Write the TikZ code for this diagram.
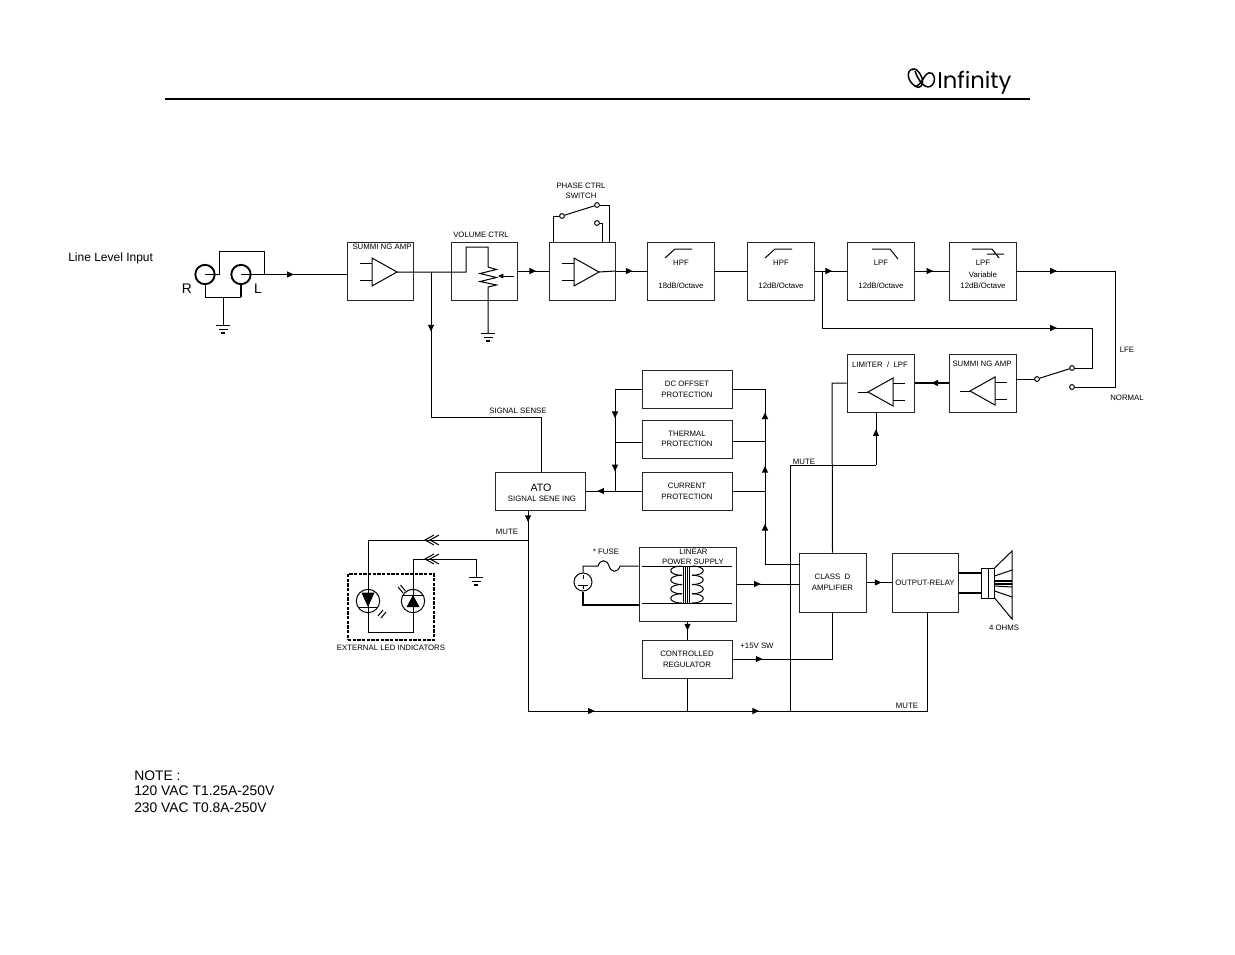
\documentclass[tikz,border=0pt]{standalone}
\usepackage{fontspec}
\setmainfont{Liberation Sans}
\newfontfamily\logofont{Poppins}
\usetikzlibrary{arrows.meta,decorations.markings}
\newcommand{\smalltxt}{\fontsize{5.85pt}{7pt}\selectfont}
\newcommand{\midtxt}{\fontsize{9pt}{11pt}\selectfont}
\newcommand{\notetxt}{\fontsize{10.4pt}{12pt}\selectfont}
\tikzset{
  x=.75pt,y=-.75pt,
  wire/.style={line width=.75pt,draw=black,line join=miter},
  thickwire/.style={line width=1.5pt,draw=black},
  mid/.style={postaction={decorate,decoration={markings,mark=at position #1 with {\arrow{Triangle[length=5pt,width=4.5pt]}}}}},
  blk/.style={draw=black!85,line width=.75pt,fill=white,inner sep=0pt,align=center,font=\smalltxt},
  txt/.style={inner sep=0pt,align=center,font=\smalltxt},
  term/.style={circle,draw=black,line width=.75pt,fill=white,minimum size=3.6pt,inner sep=0pt},
  ampl/.pic={
    \draw[wire] (0,-14) -- (25,0) -- (0,14) -- cycle;
    \draw[wire] (-12,-9) -- (0,-9) (-12,8) -- (0,8);
    \coordinate (-tip) at (25,0);
  },
  earth/.pic={
    \draw[wire] (-7,0) -- (7,0) (-4.5,4) -- (4.5,4);
    \draw[line width=1pt] (-2,8) -- (2,8);
  },
  chev/.pic={
    \draw[wire] (9,-5) -- (0,0) -- (9,5) (14,-5) -- (5,0) -- (14,5);
  }
}
\begin{document}
\begin{tikzpicture}
\path[use as bounding box,fill=white] (0,0) rectangle (1235,954);

% header
\coordinate (hl) at (165,99);
\coordinate (hr) at (1030,99);
\draw[line width=1.5pt] (hl) -- (hr);
\node[inner sep=0pt,anchor=west,font=\logofont\fontsize{17pt}{18pt}\selectfont] (logo) at (937,83) {Infinity};
\draw[line width=1.1pt,black] (913,69) .. controls (906,70) and (907,81) .. (915,86) .. controls (921,90) and (924,84) .. (922,78) .. controls (919,70) and (914,67) .. (912,70);
\draw[line width=1.1pt,black] (915,71) .. controls (920,86) and (930,92) .. (934,82) .. controls (936,74) and (930,69) .. (925,76) .. controls (922,81) and (918,88) .. (914,86);

% blocks
\node[blk,minimum width=49.5pt,minimum height=43.5pt] (sum1) at (380,271) {};
\node[blk,minimum width=49.5pt,minimum height=43.5pt] (vol) at (484,271) {};
\node[blk,minimum width=49.5pt,minimum height=43.5pt] (phase) at (582,271) {};
\node[blk,minimum width=50.25pt,minimum height=43.5pt] (hpf1) at (680.5,271) {};
\node[blk,minimum width=50.25pt,minimum height=43.5pt] (hpf2) at (780.5,271) {};
\node[blk,minimum width=50.25pt,minimum height=43.5pt] (lpf) at (880.5,271) {};
\node[blk,minimum width=50.25pt,minimum height=43.5pt] (lpfv) at (982.5,271) {};
\node[blk,minimum width=50.25pt,minimum height=43.5pt] (lim) at (880.5,383) {};
\node[blk,minimum width=50.25pt,minimum height=43.5pt] (sum2) at (982.5,383) {};
\node[blk,minimum width=67.5pt,minimum height=28.5pt] (dc) at (687,389) {DC OFFSET\\[1pt]PROTECTION};
\node[blk,minimum width=67.5pt,minimum height=28.5pt] (therm) at (687,439) {THERMAL\\[1pt]PROTECTION};
\node[blk,minimum width=67.5pt,minimum height=28.5pt] (cur) at (687,491) {CURRENT\\[1pt]PROTECTION};
\node[blk,minimum width=67.5pt,minimum height=28.5pt] (ato) at (540,491) {};
\node[blk,minimum width=72.75pt,minimum height=55.5pt] (lin) at (687.5,584) {};
\node[blk,minimum width=67.5pt,minimum height=28.5pt] (reg) at (687,659) {CONTROLLED\\[1pt]REGULATOR};
\node[blk,minimum width=50.25pt,minimum height=44.25pt] (cld) at (832.5,582.5) {CLASS\ \ D\\[1pt]AMPLIFIER};
\node[blk,minimum width=49.5pt,minimum height=44.25pt] (rel) at (925,582.5) {OUTPUT-RELAY};

% block labels
\node[txt] (l1) at (382,247) {SUMMI NG AMP};
\node[txt] (l2) at (481,235) {VOLUME CTRL};
\node[txt,align=center] (l3) at (581,191) {PHASE CTRL\\[.5pt]SWITCH};
\node[txt] (l4) at (681,263) {HPF};
\node[txt] (l5) at (681,286) {18dB/Octave};
\node[txt] (l6) at (781,263) {HPF};
\node[txt] (l7) at (781,286) {12dB/Octave};
\node[txt] (l8) at (881,263) {LPF};
\node[txt] (l9) at (881,286) {12dB/Octave};
\node[txt] (l10) at (983,263) {LPF};
\node[txt] (l11) at (983,275) {Variable};
\node[txt] (l12) at (983,286) {12dB/Octave};
\node[txt] (l13) at (880,365) {LIMITER\ \ /\ \ LPF};
\node[txt] (l14) at (982,364) {SUMMI NG AMP};
\node[inner sep=0pt,font=\fontsize{8pt}{9pt}\selectfont] (l15) at (541,488) {ATO};
\node[txt] (l16) at (542,499) {SIGNAL SENE ING};
\node[txt] (l17) at (693.5,552) {LINEAR};
\node[txt] (l18) at (693,561.5) {POWER SUPPLY};
\node[txt] (l19) at (518,411) {SIGNAL SENSE};
\node[txt] (l20) at (507,532) {MUTE};
\node[txt] (l21) at (804,462) {MUTE};
\node[txt] (l22) at (907,706) {MUTE};
\node[txt] (l23) at (757,646) {+15V SW};
\node[txt] (l24) at (606,552) {* FUSE};
\node[txt] (l25) at (1004,628) {4 OHMS};
\node[txt] (l26) at (391,648) {EXTERNAL LED INDICATORS};
\node[txt] (l27) at (1127,350) {LFE};
\node[txt] (l28) at (1127,398) {NORMAL};
\node[inner sep=0pt,anchor=west,font=\midtxt] (l29) at (68,258) {Line Level Input};
\node[inner sep=0pt,font=\notetxt] (l30) at (187,289) {R};
\node[inner sep=0pt,font=\notetxt] (l31) at (258,289) {L};
\node[inner sep=0pt,anchor=west,font=\notetxt] (l32) at (134,775.5) {NOTE :};
\node[inner sep=0pt,anchor=west,font=\notetxt] (l33) at (134,790.5) {120 VAC T1.25A-250V};
\node[inner sep=0pt,anchor=west,font=\notetxt] (l34) at (134,807.5) {230 VAC T0.8A-250V};

% input jacks
\node[circle,draw=black,line width=1.4pt,minimum size=14.5pt,inner sep=0pt] (jr) at (205,274.5) {};
\node[circle,draw=black,line width=1.4pt,minimum size=14.5pt,inner sep=0pt] (jl) at (241,274.5) {};
\coordinate (loopa) at (219,274.5);
\coordinate (loopb) at (264,274.5);
\coordinate (gndj) at (223,297);
\coordinate (gndin) at (223,325);
\draw[wire] (jr.center) -- (loopa) |- (264,251) -- (loopb);
\draw[wire,mid=.5] (jl.center) -- (jl.center -| sum1.west);
\draw[wire] (jr.south) -- (jr.south |- gndj) -- (jl.south |- gndj);
\draw[thickwire] (jl.south |- gndj) -- (jl.south);
\draw[wire] (gndj) -- (gndin);
\pic at (gndin) {earth};

% summing amp + volume
\pic (a1) at (372,272) {ampl};
\pic (a3) at (574,272) {ampl};
\pic[xscale=-1] (a4) at (893,392) {ampl};
\pic[xscale=-1] (a5) at (995,391) {ampl};
\coordinate (jsense) at (431,272);
\coordinate (ssa) at (431,417);
\coordinate (ssb) at (541,417);
\draw[wire] (a1-tip) -- (466,272) -- (466,247) -- (488,247) -- (488,267)
  -- (496.5,269.5) -- (480,273.5) -- (496.5,277.5) -- (480,281.5) -- (496.5,285) -- (488,287) -- (488,333);
\pic at (488,333) {earth};
\coordinate (wiper) at (514,276);
\coordinate (wiperb) at (498,276);
\draw[wire,-{Triangle[length=4pt,width=3.5pt]}] (wiper) -- (wiperb);
\draw[wire,mid=.41] (jsense) -- (ssa);
\draw[wire] (ssa) -- (ssb) -- (ssb |- ato.north);
\draw[wire,mid=.6] (vol.east) -- (phase.west);

% phase switch
\node[term] (sa) at (562,216) {};
\node[term] (sb) at (597,205) {};
\node[term] (sc) at (597,223) {};
\coordinate (ta) at (553,242);
\coordinate (tb) at (609,242);
\coordinate (tc) at (602,242);
\draw[wire] (sa) -- (sb);
\draw[wire] (sa) -| (ta);
\draw[wire] (sb) -| (tb);
\draw[wire] (sc) -| (tc);
\draw[wire] (a3-tip) -- (phase.east);
\draw[wire,mid=.55] (phase.east) -- (hpf1.west);
\draw[wire] (hpf1.east) -- (hpf2.west);

% filter slopes
\draw[wire] (665,258) -- (675,249) -- (692,249);
\draw[wire] (765,258) -- (775,249) -- (792,249);
\draw[wire] (872,249) -- (890,249) -- (898,259);
\draw[wire] (972,249) -- (992,249) -- (999,258) (987,254) -- (1004,254);

% filter chain
\coordinate (jlpf) at (822,271);
\coordinate (lowb) at (822,328);
\coordinate (lowc) at (1092,328);
\coordinate (hic) at (1115,271);
\node[term] (ma) at (1037,379) {};
\node[term] (mb) at (1072,368) {};
\node[term] (mc) at (1072,387) {};
\draw[wire,mid=.55] (hpf2.east) -- (lpf.west);
\draw[wire,mid=.55] (lpf.east) -- (lpfv.west);
\draw[wire,mid=.41] (lpfv.east) -- (hic);
\draw[wire] (hic) |- (mc);
\draw[wire] (jlpf) -- (lowb);
\draw[wire,mid=.87] (lowb) -- (lowc);
\draw[wire] (lowc) |- (mb);
\draw[wire] (ma) -- (mb);
\draw[wire] (sum2.east |- ma) -- (ma);

% limiter
\draw[thickwire,mid=.5] (sum2.west) -- (lim.east);
\coordinate (s2in) at (960,391);
\coordinate (l2in) at (858,392);
\draw[wire] (a5-tip) -- (s2in);
\draw[wire] (a4-tip) -- (l2in);

% protection
\coordinate (pa) at (615,389);
\coordinate (pb) at (615,442);
\coordinate (pc) at (615,491);
\coordinate (qa) at (765,389);
\coordinate (qb) at (765,441);
\coordinate (qc) at (765,491);
\coordinate (qd) at (765,564);
\draw[wire] (dc.west) -- (pa);
\draw[wire,mid=.55] (pa) -- (pb);
\draw[wire,mid=.6] (pb) -- (pc);
\draw[wire] (therm.west |- pb) -- (pb);
\draw[wire] (cur.west) -- (pc);
\draw[wire,mid=.6] (pc) -- (ato.east);
\draw[wire] (dc.east) -- (qa);
\draw[wire] (therm.east |- qb) -- (qb);
\draw[wire] (cur.east) -- (qc);
\draw[wire,mid=.55] (qb) -- (qa);
\draw[wire,mid=.5] (qc) -- (qb);
\draw[wire,mid=.55] (qd) -- (qc);
\draw[wire] (qd) -- (cld.west |- qd);

% ATO down + LEDs
\coordinate (ja) at (528,540);
\coordinate (jb) at (528,711);
\draw[wire,mid=.39] (ato.south -| ja) -- (ja);
\draw[wire] (ja) -- (jb);
\coordinate (m1) at (425,540);
\coordinate (m2) at (425,559);
\coordinate (e1) at (476,559);
\coordinate (e2) at (476,577);
\node[circle,draw=black,line width=.75pt,minimum size=17.5pt,inner sep=0pt] (led1) at (368,601) {};
\node[circle,draw=black,line width=.75pt,minimum size=17.5pt,inner sep=0pt] (led2) at (413,601) {};
\draw[wire] (ja) -- (m1) -- (m1 -| led1) -- (led1.center);
\draw[wire] (e2) -- (e1) -- (m2) -- (m2 -| led2) -- (led2.center);
\pic at (m1) {chev};
\pic at (m2) {chev};
\pic at (e2) {earth};
\fill (361.5,592.7) -- (374.5,592.7) -- (368,607) -- cycle;
\fill (406.5,607) -- (419.5,607) -- (413,595) -- cycle;
\draw[wire] (358,607) -- (378,607) (403,595) -- (423,595);
\draw[wire] (378,616) -- (383,610) (381,618) -- (386,612);
\draw[wire] (398,587) -- (403,593) (400.5,585) -- (405.5,591);
\coordinate (lb1) at (368,632);
\coordinate (lb2) at (413,632);
\draw[wire] (led1.center) -- (lb1) -- (lb2) -- (led2.center);
\node[draw=black,line width=.95pt,dash pattern=on 2.5pt off 1pt,minimum width=64.5pt,minimum height=49.5pt,inner sep=0pt] (ledbox) at (391,607) {};

% power supply
\node[circle,draw=black,line width=.75pt,minimum size=13.5pt,inner sep=0pt] (ac) at (583,582) {};
\draw[wire] (583,575) -- (583,579) (578,585) -- (588,585) (583,585) -- (583,589);
\coordinate (fa) at (598,566);
\coordinate (fb) at (620,566);
\coordinate (fc) at (639,605);
\draw[wire] (ac.north) -- (ac.north |- fa) -- (fa)
  .. controls (600,559) and (607,559) .. (609,566) .. controls (611,573) and (618,573) .. (620,566) -- (lin.west |- fb);
\draw[thickwire] (ac.south) |- (fc);
% transformer
\draw[wire] (642,566) -- (732,566) (642,603) -- (732,603);
\foreach \yy in {566,575.25,584.5,593.75} {
  \draw[wire] (682,\yy) .. controls (667,\yy) and (667,\yy+9.25) .. (682,\yy+9.25);
  \draw[wire] (692,\yy) .. controls (707,\yy) and (707,\yy+9.25) .. (692,\yy+9.25);
}
\draw[line width=.5pt] (683.5,566) -- (683.5,604) (685.5,566) -- (685.5,604) (687.5,566) -- (687.5,604) (689.5,566) -- (689.5,604);

\draw[wire,mid=.39] (lin.east) -- (cld.west |- lin.east);
\draw[wire,mid=.5] (lin.south) -- (reg.north -| lin.south);
\draw[wire,mid=.3] (reg.east) -- (cld.south |- reg.east);
\draw[wire] (cld.south |- reg.east) -- (cld.south);
\draw[wire] (reg.south) -- (reg.south |- jb);
\draw[wire,mid=.6] (cld.east) -- (rel.west);

% class D to limiter
\coordinate (cup) at (832,383);
\draw[wire] (cld.north) -- (cup) -- (lim.west);
% mute bus
\coordinate (jm) at (790,711);
\coordinate (jn) at (790,465);
\coordinate (jo) at (876,465);
\coordinate (rd) at (927,711);
\draw[wire,mid=.42] (jb) -- (reg.south |- jb);
\draw[wire,mid=.7] (reg.south |- jb) -- (jm);
\draw[wire] (jm) -- (rd) -- (rd |- rel.south);
\draw[wire] (jm) -- (jn) -- (jo);
\draw[wire,mid=.68] (jo) -- (jo |- lim.south);

% speaker
\node[draw=black,line width=.75pt,minimum width=9.5pt,minimum height=22.5pt,inner sep=0pt] (spk) at (988.3,583) {};
\coordinate (spa) at (982,573);
\coordinate (spb) at (982,593);
\draw[wire] (988.3,568) -- (988.3,598);
\draw[line width=1pt] (rel.east |- spa) -- (spa) (rel.east |- spb) -- (spb);
\draw[wire] (994.6,568) -- (1012,551) -- (1012,619) -- (994.6,598);
\draw[wire] (994.6,576) -- (1012,570);
\draw[line width=1pt] (994.6,581) -- (1012,581) (994.6,584) -- (1012,584);
\draw[wire] (994.6,586) -- (1012,587) (994.6,591) -- (1012,597);
\end{tikzpicture}
\end{document}
